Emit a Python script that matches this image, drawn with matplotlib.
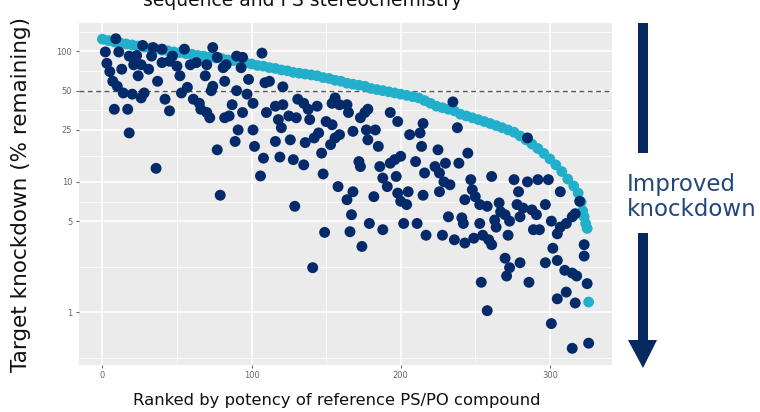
import matplotlib
matplotlib.use("Agg")
import matplotlib.pyplot as plt
from matplotlib.patches import Rectangle, Polygon
from matplotlib.ticker import FixedLocator, NullFormatter

# ---------------- data ----------------
title_text = "sequence and PS stereochemistry"
x_label = "Ranked by potency of reference PS/PO compound"
y_label = "Target knockdown (% remaining)"
side_text = "Improved\nknockdown"

x_ticks = [0, 100, 200, 300]
y_ticks = [1, 5, 10, 25, 50, 100]
y_tick_labels = ["1", "5", "10", "25", "50", "100"]
threshold = 50

# reference compound (cyan), sorted potency
ref_rank = [0, 4, 8, 12, 16, 20, 24, 28, 32, 36, 40, 44, 48, 52, 56, 60, 64, 68, 72, 76,
            80, 84, 88, 92, 96, 100, 104, 108, 112, 116, 120, 124, 128, 132, 136, 140, 144,
            148, 152, 156, 160, 164, 168, 172, 176, 180, 184, 188, 192, 196, 200, 204, 208,
            212, 216, 220, 224, 228, 232, 236, 240, 244, 248, 252, 256, 260, 264, 268, 272,
            276, 280, 284, 288, 292, 296, 300, 304, 308, 312, 316, 319, 321, 322, 323, 324,
            325, 326]
ref_value = [124, 121, 118, 116, 114, 112, 110, 108, 106, 104, 102, 101, 99, 98, 96, 95, 93,
             92, 90, 89, 88, 86, 85, 84, 82, 80, 78, 77, 75, 74, 72, 71, 69, 68, 67, 66, 65,
             63, 62, 60, 59, 57, 56, 55, 54, 52, 51, 50, 49, 48, 47, 46, 45, 44, 42, 40, 38,
             37, 36, 35, 33, 32, 31, 30, 29, 28, 27, 26, 25, 24, 22.5, 21, 19.5, 18, 16.5,
             15, 13.5, 12, 10.5, 9.3, 8.2, 7.0, 6.0, 5.4, 4.8, 4.4, 1.2]

# new compounds (dark navy)
new_rank = [9, 2, 11, 3, 5, 7, 10, 14, 20, 26,
            28, 8, 17, 18, 36, 13, 18, 23, 27, 21,
            26, 24, 31, 33, 34, 40, 37, 42, 45, 40,
            45, 50, 52, 55, 47, 53, 57, 59, 63, 70,
            69, 74, 77, 61, 65, 66, 70, 72, 74, 73,
            77, 81, 83, 82, 90, 94, 93, 90, 87, 82,
            85, 91, 89, 94, 98, 101, 102, 97, 101,
            107, 109, 112, 121, 110, 116, 121, 118, 120,
            116, 108, 106, 119, 126, 128, 135, 129, 125, 131,
            135, 138, 130, 139, 144, 136, 142, 145, 147, 148,
            149, 150, 154, 153, 156, 159, 154, 156, 159, 164,
            165, 158, 164, 168, 167, 166, 174, 168, 172, 173,
            173, 176, 178, 177, 178, 183, 185, 186, 182, 179,
            188, 193, 198, 188, 191, 193, 196, 200, 197, 198,
            200, 204, 205, 202, 211, 206, 210, 213, 214, 215,
            216, 215, 217, 235, 238, 225, 245, 223, 230,
            239, 226, 229, 233, 226, 247, 248, 243, 250, 253,
            258, 261, 232, 241, 242, 253, 228, 236, 243, 249,
            255, 259, 261, 266, 267, 263, 264, 272, 270, 273,
            276, 279, 285, 292, 299, 278, 282, 288, 291, 297,
            280, 289, 293, 301, 305, 307, 307, 311, 315, 317,
            302, 270, 273, 280, 271, 286, 297, 305, 310, 315,
            318, 323, 323, 320, 285, 325, 311, 305, 317, 254,
            258, 301, 315, 326, 79, 141]
new_value = [125, 99, 99, 81, 70, 59, 54, 48, 47, 44,
             48, 36, 36, 23.7, 12.7, 73, 92, 93, 111, 79,
             79, 65, 73, 92, 107, 104, 59, 43, 35, 82,
             84, 77, 65, 104, 92, 48, 53, 79, 82, 79,
             65, 107, 90, 43, 40, 36, 34, 31, 54, 50,
             17.6, 75, 79, 59, 92, 90, 75, 50, 39, 31,
             32, 25, 20.4, 34, 61, 25, 18.7, 47, 40,
             97, 57.5, 59, 53.5, 34, 38, 39, 30, 26,
             20.4, 15.2, 11.1, 15.5, 21, 14.8, 13.5, 6.5, 32, 43,
             40, 36, 31, 30, 38, 20, 21.7, 23.7, 16.6, 11.5,
             4.1, 29, 27.4, 19.3, 21.7, 23, 40, 44, 39, 39,
             34, 9.2, 7.3, 8.4, 5.6, 4.15, 3.2, 24.4, 14.3, 13.1,
             31, 34, 36, 25, 21, 25, 18.7, 13.1, 7.7, 4.8,
             4.3, 34, 29, 10.7, 9.2, 13.9, 14.8, 15.7, 11, 8.2,
             7.1, 6.7, 8.4, 4.8, 4.8, 23, 14.3, 23.7, 18.7, 28,
             11.7, 7.9, 3.9, 41, 26, 17.6, 16.6, 13.1, 13.9,
             13.9, 11.7, 10, 9.5, 8.4, 10.4, 8.7, 7.3, 7.7, 6.7,
             6.5, 11, 5.4, 5.3, 4.8, 4.8, 3.9, 3.6, 3.4, 3.7,
             3.9, 3.6, 3.3, 6.9, 5.9, 5.1, 4.5, 3.9, 5.6, 5.0,
             10.4, 8.4, 10, 10.4, 10.4, 6.7, 6.3, 6.1, 5.6, 6.7,
             5.4, 4.3, 4.3, 5.0, 4.0, 8.4, 4.5, 4.8, 5.4, 5.7,
             3.1, 2.6, 2.2, 2.4, 1.9, 1.7, 2.4, 2.5, 2.1, 2.0,
             1.9, 3.3, 2.7, 7.1, 21.7, 1.66, 1.43, 1.27, 1.18, 1.7,
             1.03, 0.82, 0.53, 0.58, 7.9, 2.2]

# ---------------- style ----------------
NAVY = "#052a6a"
CYAN = "#22afcb"
PANEL = "#ebebeb"
TEXTBLUE = "#24467a"
ARROW = "#06295f"

W, H = 760, 412
fig = plt.figure(figsize=(W / 100, H / 100), dpi=100)
fig.patch.set_facecolor("white")

L, R, T, B = 78.5, 612.5, 23, 365
ax = fig.add_axes([L / W, 1 - B / H, (R - L) / W, (B - T) / H])
ax.set_facecolor(PANEL)
for s in ax.spines.values():
    s.set_visible(False)

ax.set_yscale("log")
ax.set_xlim(-16, 342)
ax.set_ylim(0.395, 165)

ax.xaxis.set_major_locator(FixedLocator(x_ticks))
ax.xaxis.set_minor_locator(FixedLocator([50, 150, 250]))
ax.yaxis.set_major_locator(FixedLocator(y_ticks))
ax.set_yticklabels(y_tick_labels)
ax.yaxis.set_minor_locator(FixedLocator([0.447, 2.236, 7.071, 15.81, 35.36, 70.71, 141.4]))
ax.yaxis.set_minor_formatter(NullFormatter())
ax.xaxis.set_minor_formatter(NullFormatter())

ax.grid(which="major", color="white", lw=1.1)
ax.grid(which="minor", color="white", lw=0.55)
ax.set_axisbelow(True)
ax.tick_params(which="major", length=2.5, width=0.8, color="#666666",
               labelsize=6, labelcolor="#666666", pad=2)
ax.tick_params(which="minor", length=0)

ax.axhline(threshold, color="#555555", lw=1.0, ls=(0, (3.5, 2.5)), zorder=1.5)

ax.scatter(ref_rank, ref_value, s=60, color=CYAN, edgecolors="none", zorder=2)
ax.scatter(new_rank, new_value, s=62, color=NAVY, edgecolors="none", zorder=3)

# labels
fig.text(21 / W, 1 - 195 / H, y_label, rotation=90, ha="center", va="center",
         fontsize=15.5, color="#111111")
fig.text(337 / W, 1 - 400 / H, x_label, ha="center", va="center",
         fontsize=11.8, color="#111111")
fig.text(303 / W, 1 - 6 / H, title_text, ha="center", va="baseline",
         fontsize=13.5, color="#111111")

# side annotation
fig.text(627 / W, 1 - 197 / H, side_text, ha="left", va="center",
         fontsize=16.5, color=TEXTBLUE, linespacing=1.15)

def px_rect(x0, y0, x1, y1):
    return Rectangle((x0 / W, 1 - y1 / H), (x1 - x0) / W, (y1 - y0) / H,
                     transform=fig.transFigure, color=ARROW, lw=0)

fig.add_artist(px_rect(638, 23, 648, 153))
fig.add_artist(px_rect(638, 233, 648, 342))
fig.add_artist(Polygon([(628 / W, 1 - 340 / H), (657 / W, 1 - 340 / H),
                        (643 / W, 1 - 368 / H)], closed=True,
                       transform=fig.transFigure, color=ARROW, lw=0))

fig.savefig("out.png", dpi=100)
